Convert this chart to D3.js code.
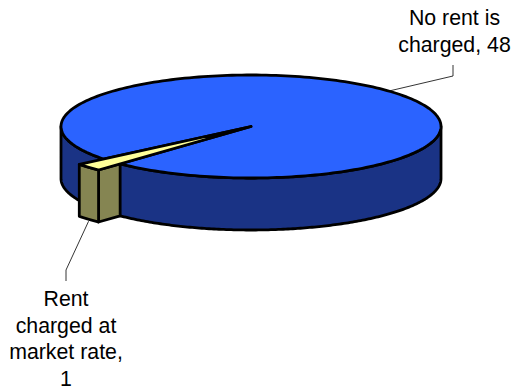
<!DOCTYPE html>
<html><head><meta charset="utf-8"><style>html,body{margin:0;padding:0;background:#fff}svg{display:block}</style>
<script src="https://cdn.jsdelivr.net/npm/d3@7"></script></head><body><div id="c"></div>
<script>
const categories = ["No rent is charged", "Rent charged at market rate"];
const values = [48, 1];
const labelLines = [["No rent is", "charged, 48"], ["Rent", "charged at", "market rate,", "1"]];
const topColors = ["#2B63FF", "#FFFF99"];
const sideColors = ["#1A3385", "#858552"];

const W = 515, H = 392;
const svg = d3.select("#c").append("svg").attr("width", W).attr("height", H);
const sx = d3.scaleLinear().domain([-1, 1]).range([61, 441]);
const sy = d3.scaleLinear().domain([-1, 1]).range([75, 178]);
const depth = 52, explode = 1.165;
const sliceMid = 137.2 * Math.PI / 180;
const share = 2 * Math.PI * values[1] / d3.sum(values);
const pie = d3.pie().sort(null).startAngle(sliceMid + share / 2).endAngle(sliceMid + share / 2 + 2 * Math.PI);
const arcs = pie(values);
const P = (a, r = 1, dz = 0) => [sx(r * Math.cos(a)), sy(r * Math.sin(a)) + dz];
const line = d3.line();
const sweep = (a0, a1, r = 1, dz = 0) => d3.range(0, 241).map(i => P(a0 + (a1 - a0) * i / 240, r, dz));
const g = svg.append("g").attr("stroke", "#000").attr("stroke-width", 2.8).attr("stroke-linejoin", "round");

const big = arcs[0];
const cx = sx(0), cy = sy(0);
const upper = big.startAngle;
const lower = big.endAngle - 2 * Math.PI;

g.append("path").attr("fill", sideColors[0]).attr("d",
  line([...sweep(0, Math.PI, 1, 0), ...sweep(Math.PI, 0, 1, depth)]) + "Z");
g.append("path").attr("fill", topColors[0]).attr("d",
  line([[cx, cy], ...sweep(big.startAngle, big.endAngle, 1, 0)]) + "Z");

const O = P(lower, explode), C = P(lower, 1);
g.append("path").attr("fill", sideColors[1]).attr("d",
  line([O, C, [C[0], C[1] + depth], [O[0], O[1] + depth]]) + "Z");
g.append("path").attr("fill", sideColors[1]).attr("d",
  line([...sweep(lower, upper, explode, 0), ...sweep(upper, lower, explode, depth)]) + "Z");
g.append("path").attr("fill", topColors[1]).attr("d",
  line([[cx, cy], ...sweep(lower, upper, explode, 0)]) + "Z");

const anchor0 = P(-43.5 * Math.PI / 180, 1);
const mid = P((lower + upper) / 2, explode, depth);
const leaderG = svg.append("g").attr("fill", "none").attr("stroke", "#000").attr("stroke-width", 0.8);
leaderG.append("path").attr("d", line([[453, 65], [453, 76], anchor0]));
leaderG.append("path").attr("d", line([[mid[0], mid[1] + 2], [66, 270], [66, 281]]));

const labelPos = [[454.5, 25], [66, 306]];
const lineH = 26.5;
labelLines.forEach((ls, i) => {
  const t = svg.append("text").attr("text-anchor", "middle")
    .attr("font-family", "'Liberation Sans', Arial, sans-serif").attr("font-size", 21.3).attr("fill", "#000");
  ls.forEach((s, j) => t.append("tspan").attr("x", labelPos[i][0]).attr("y", labelPos[i][1] + j * lineH).text(s));
});
</script></body></html>
